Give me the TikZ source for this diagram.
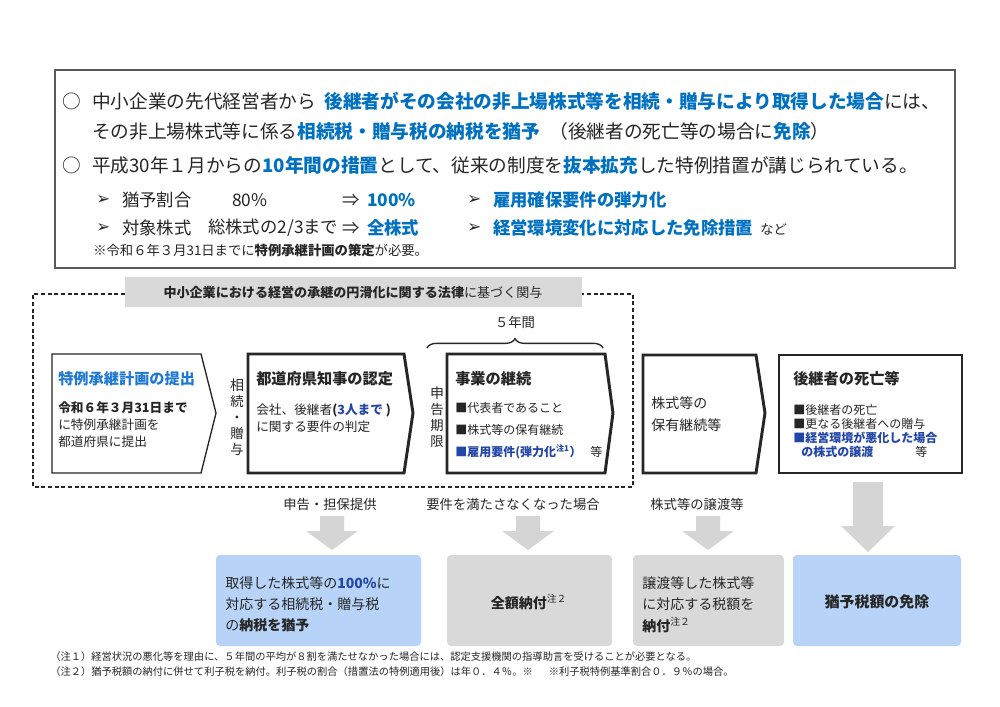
\documentclass[tikz,border=0pt]{standalone}
\usepackage{fontspec}
\setmainfont{Noto Sans CJK JP}
\newfontfamily\dejavu{DejaVu Sans}
\usetikzlibrary{decorations.pathreplacing}
\definecolor{txt}{HTML}{262626}
\definecolor{topblue}{HTML}{0070C0}
\definecolor{dblue}{HTML}{2346A6}
\definecolor{lblue}{HTML}{1F78D2}
\definecolor{boxblue}{HTML}{B7D3F7}
\definecolor{boxgray}{HTML}{D9D9D9}
\definecolor{arrgray}{HTML}{D5D5D5}
\definecolor{bordergray}{HTML}{595959}
\newcommand\szTop{\fontsize{14}{17}\selectfont}
\newcommand\szBul{\fontsize{13}{16}\selectfont}
\newcommand\szNote{\fontsize{10}{12}\selectfont}
\newcommand\szTtl{\fontsize{11.4}{14}\selectfont}
\newcommand\szBody{\fontsize{9.5}{12}\selectfont}
\newcommand\szItem{\fontsize{9}{11}\selectfont}
\newcommand\szLab{\fontsize{10}{12}\selectfont}
\newcommand\szRes{\fontsize{10.5}{13}\selectfont}
\newcommand\szFoot{\fontsize{7.7}{9}\selectfont}
\newcommand\szArr{\fontsize{12.5}{14}\selectfont}
\newcommand\grayarr[6]{% cx, top, headstart, tip, halfshaft, halfhead
  \fill[arrgray] ({#1-#5},#2) -- ({#1+#5},#2) -- ({#1+#5},#3) -- ({#1+#6},#3) -- (#1,#4) -- ({#1-#6},#3) -- ({#1-#5},#3) -- cycle;}
\begin{document}
\begin{tikzpicture}[x=0.75pt,y=-0.75pt,
  t/.style={anchor=west,inner sep=0pt,text=txt},
  tc/.style={anchor=center,inner sep=0pt,text=txt,align=center},
  thinbox/.style={draw=txt,line width=1pt,fill=white},
  thickbox/.style={draw=txt,line width=2.2pt,fill=white,line join=miter}]
\useasboundingbox (0,0) rectangle (1000,707);
\fill[white] (0,0) rectangle (1000,707);

% ---------- top box ----------
\draw[bordergray,line width=1.5pt] (55,70) rectangle (955,268);
\node[t] (c1) at (62,101) {\szTop ○};
\node[t] (l1) at (92,101) {\szTop 中小企業の先代経営者から\hspace{3pt} {\bfseries\color{topblue}後継者がその会社の非上場株式等を相続・贈与により取得した場合}には、};
\node[t] (l2) at (92,131) {\szTop その非上場株式等に係る{\bfseries\color{topblue}相続税・贈与税の納税を猶予}\hspace{7pt}（後継者の死亡等の場合に{\bfseries\color{topblue}免除}）};
\node[t] (c2) at (62,165) {\szTop ○};
\node[t] (l3) at (92,165) {\szTop 平成30年１月からの{\bfseries\color{topblue}10年間の措置}として、従来の制度を{\bfseries\color{topblue}抜本拡充}した特例措置が講じられている。};

\node[t] (a1) at (96,200) {\szArr\dejavu ➢};
\node[t] (a1t) at (122,200) {\szBul 猶予割合};
\node[t] (a1v) at (232,200) {\szBul 80\%};
\node[t] (a1r) at (342,200) {\szBul ⇒};
\node[t] (a1n) at (367,200) {\szBul\bfseries\color{topblue}100\%};
\node[t] (a2) at (96,228) {\szArr\dejavu ➢};
\node[t] (a2t) at (122,228) {\szBul 対象株式};
\node[t] (a2v) at (208,228) {\szBul 総株式の2/3まで};
\node[t] (a2r) at (342,228) {\szBul ⇒};
\node[t] (a2n) at (367,228) {\szBul\bfseries\color{topblue}全株式};
\node[t] (a3) at (467,200) {\szArr\dejavu ➢};
\node[t] (a3t) at (493,200) {\szBul\bfseries\color{topblue}雇用確保要件の弾力化};
\node[t] (a4) at (467,228) {\szArr\dejavu ➢};
\node[t] (a4t) at (493,228) {\szBul\bfseries\color{topblue}経営環境変化に対応した免除措置};
\node[t] (a4e) at (760,229) {\szNote など};
\node[t] (note) at (93,250) {\szNote ※令和６年３月31日までに{\bfseries 特例承継計画の策定}が必要。};

% ---------- dashed region ----------
\draw[txt,line width=0.9pt,dash pattern=on 3pt off 2pt] (125,294) -- (33,294) -- (33,487) -- (633,487) -- (633,294) -- (582,294);
\fill[boxgray] (125,277) rectangle (582,307);
\node[tc] (law) at (353,293) {\fontsize{9.8}{12}\selectfont{\bfseries 中小企業における経営の承継の円滑化に関する法律}に基づく関与};

% box A
\draw[thinbox] (52,354) -- (201,354) -- (216,413) -- (201,473) -- (52,473) -- cycle;
\node[t] (A1) at (58,379) {\szTtl\bfseries\color{lblue}特例承継計画の提出};
\node[t] (A2) at (58,408) {\szBody\bfseries 令和６年３月31日まで};
\node[t] (A3) at (58,425) {\szBody に特例承継計画を};
\node[t] (A4) at (58,442) {\szBody 都道府県に提出};

\node[tc] (v1) at (237,417) {\fontsize{10.5}{15}\selectfont 相\\続\\・\\贈\\与};

% box B
\draw[thickbox] (248,354) -- (404,354) -- (413,413) -- (404,473) -- (248,473) -- cycle;
\node[t] (B1) at (256,379) {\szTtl\bfseries 都道府県知事の認定};
\node[t] (B2) at (256,410) {\szBody 会社、後継者{\bfseries(\color{dblue}3人まで\color{txt}~)}};
\node[t] (B3) at (256,427) {\szBody に関する要件の判定};

\node[tc] (v2) at (437,417) {\fontsize{10.5}{15.5}\selectfont 申\\告\\期\\限};

\node[tc] (yr) at (515,322) {\szLab ５年間};
\draw[txt,line width=1pt,decorate,decoration={brace,amplitude=7pt}] (427,348) -- (603,348);

% box C
\draw[thickbox] (447,354) -- (605,354) -- (613,413) -- (605,473) -- (447,473) -- cycle;
\node[t] (C1) at (455,379) {\szTtl\bfseries 事業の継続};
\node[t] (C2) at (455,408) {\szItem ■代表者であること};
\node[t] (C3) at (455,430) {\szItem ■株式等の保有継続};
\node[t] (C4) at (455,452) {\szItem{\bfseries\color{dblue}■雇用要件(弾力化\textsuperscript{注1}）}};
\node[t] (C5) at (590,452) {\szItem 等};

% box D
\draw[thickbox] (643,355) -- (756,355) -- (765,413) -- (756,473) -- (643,473) -- cycle;
\node[t] (D1) at (651,403) {\szRes 株式等の};
\node[t] (D2) at (651,425) {\szRes 保有継続等};

% box E
\draw[thickbox] (779,355) rectangle (962,473);
\node[t] (E1) at (793,379) {\szTtl\bfseries 後継者の死亡等};
\node[t] (E2) at (793,410) {\szItem ■後継者の死亡};
\node[t] (E3) at (793,424) {\szItem ■更なる後継者への贈与};
\node[t] (E4) at (793,438) {\szItem\bfseries\color{dblue}■経営環境が悪化した場合};
\node[t] (E5) at (801,452) {\szItem\bfseries\color{dblue}の株式の譲渡};
\node[t] (E6) at (915,452) {\szItem 等};

% ---------- bottom ----------
\node[tc] (L1) at (330,504) {\szLab 申告・担保提供};
\node[tc] (L2) at (513,504) {\szLab 要件を満たさなくなった場合};
\node[tc] (L3) at (697,504) {\szLab 株式等の譲渡等};

\grayarr{332}{516}{531}{550}{12}{26}
\grayarr{528}{516}{531}{550}{12}{26}
\grayarr{708}{516}{531}{550}{12}{26}
\grayarr{868}{482}{526}{552}{15}{27}

\fill[boxblue,rounded corners=3pt] (216,555) rectangle (421,646);
\node[t] (R1a) at (225,583) {\szRes 取得した株式等の{\bfseries\color{dblue}100\%}に};
\node[t] (R1b) at (225,604) {\szRes 対応する相続税・贈与税};
\node[t] (R1c) at (225,625) {\szRes の{\bfseries 納税を猶予}};

\fill[boxgray,rounded corners=3pt] (447,555) rectangle (612,646);
\node[tc] (R2) at (529,602) {\szRes{\bfseries 全額納付}\textsuperscript{注２}};

\fill[boxgray,rounded corners=3pt] (633,555) rectangle (784,646);
\node[t] (R3a) at (642,583) {\szRes 譲渡等した株式等};
\node[t] (R3b) at (642,604) {\szRes に対応する税額を};
\node[t] (R3c) at (642,625) {\szRes{\bfseries 納付}\textsuperscript{注２}};

\fill[boxblue,rounded corners=3pt] (793,555) rectangle (961,646);
\node[tc] (R4) at (877,602) {\fontsize{11.2}{13}\selectfont\bfseries 猶予税額の免除};

\node[t] (F1) at (50,657) {\szFoot （注１）経営状況の悪化等を理由に、５年間の平均が８割を満たせなかった場合には、認定支援機関の指導助言を受けることが必要となる。};
\node[t] (F2) at (50,672) {\szFoot （注２）猶予税額の納付に併せて利子税を納付。利子税の割合（措置法の特例適用後）は年０．４％。※\hspace{12pt}※利子税特例基準割合０．９％の場合。};
\end{tikzpicture}
\end{document}
